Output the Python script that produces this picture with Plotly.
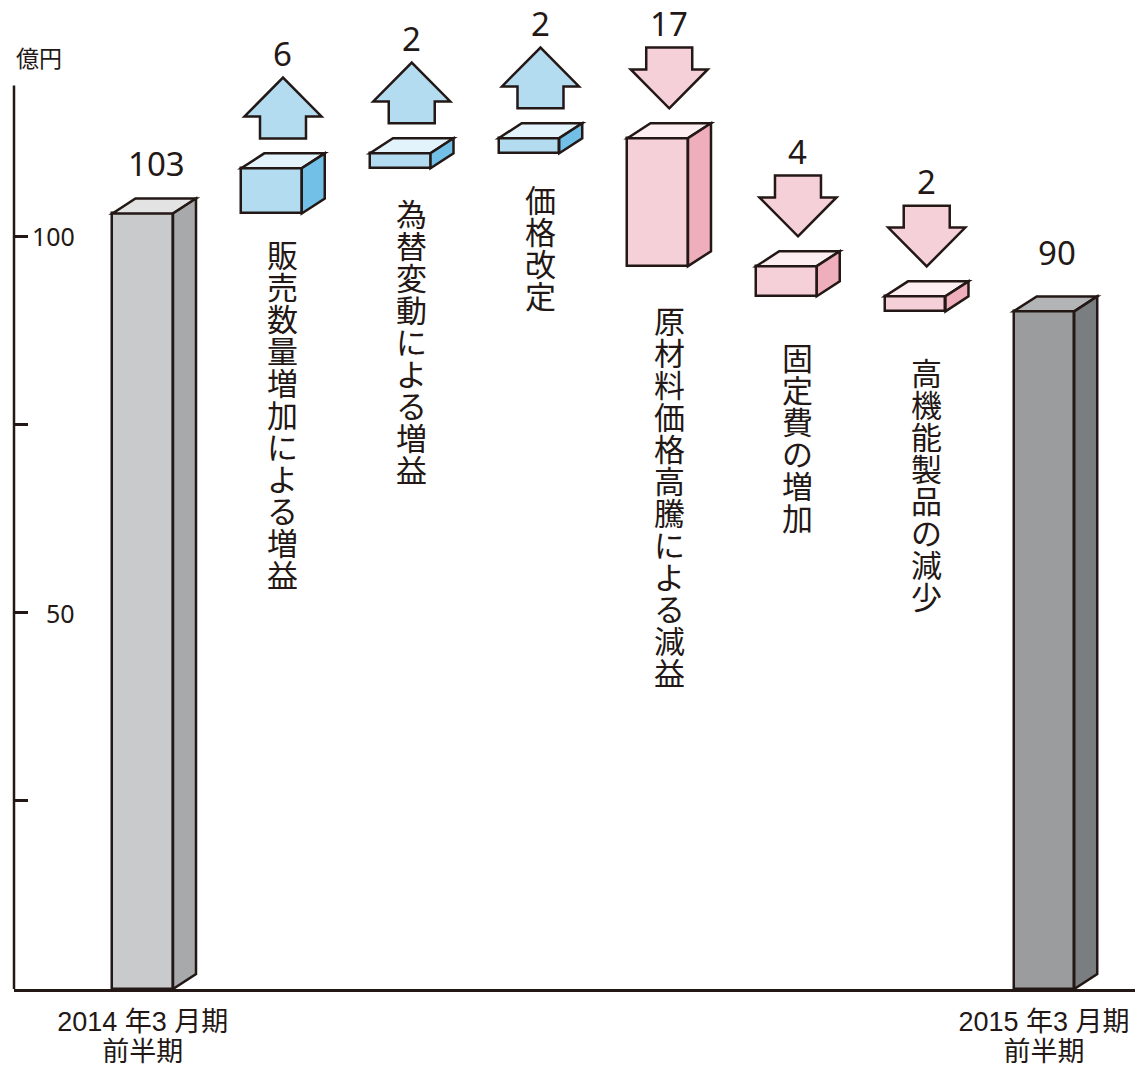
import plotly.graph_objects as go

# ---------------- data ----------------
start_value = 103
end_value = 90
deltas = [6, 2, 2, -17, -4, -2]
step_labels = ["販売数量増加による増益", "為替変動による増益", "価格改定",
               "原材料価格高騰による減益", "固定費の増加", "高機能製品の減少"]
period_lines = [["2014 年3 月期", "前半期"], ["2015 年3 月期", "前半期"]]
y_tick_vals = [25, 50, 75, 100]
y_tick_text = ["", "50", "", "100"]
unit_label = "億円"

# ---------------- style ----------------
FONT = "Noto Sans CJK JP, Noto Sans, sans-serif"
TIGHT_FONT = "Liberation Sans, Noto Sans CJK JP, sans-serif"
NUM_FONT = "Noto Sans, Noto Sans CJK JP, sans-serif"
INK = "#231815"
LW = 2.5
GRAY1 = dict(front="#c9cacb", top="#e3e3e4", side="#a8a9ab")
GRAY2 = dict(front="#9a9c9d", top="#b3b4b5", side="#7b7e80")
BLUE = dict(front="#b3dcf1", top="#e2f3fb", side="#72c0e7")
PINK = dict(front="#f5d0d8", top="#fdeef2", side="#eeaebb")

W, H = 1135, 1067
M = dict(l=14, r=0, t=0, b=74)
X_RANGE = [-1.0, 7.707]
Y_RANGE = [0, 131.35]
px_x = (W - M["l"] - M["r"]) / (X_RANGE[1] - X_RANGE[0])
px_y = (H - M["t"] - M["b"]) / (Y_RANGE[1] - Y_RANGE[0])

BAR_W = 0.47
DX = 23 / px_x          # depth offset (x units)
DY = 15 / px_y          # depth offset (y units)
ARROW_GAP = 15 / px_y
SHAFT_H = 22 / px_y
HEAD_H = 39 / px_y
HEAD_W = 77 / px_x
SHAFT_W = 46 / px_x
LINE_SPACING = 1.3      # plotly's line spacing (em)
CHAR_PITCH = 32         # px between stacked characters
CHAR_SIZE = 31
PERIOD_PITCH = 30
PERIOD_SIZE = 27
label_gaps_px = [29, 33, 34, 42, 49, 49]
total_label_gaps_px = [19, 27]


def stacked(chars, size):
    return "<br>".join(f"<span style='font-size:{size}px'>{c}</span>" for c in chars)


# ---------------- waterfall geometry ----------------
n = len(deltas) + 2
xs = list(range(n))
bases, heights, styles = [0], [start_value], [GRAY1]
running = start_value
for d in deltas:
    new = running + d
    bases.append(min(running, new))
    heights.append(abs(d))
    styles.append(BLUE if d > 0 else PINK)
    running = new
bases.append(0)
heights.append(end_value)
styles.append(GRAY2)

fig = go.Figure()
fig.add_trace(go.Bar(
    x=xs, y=heights, base=bases, width=BAR_W,
    marker=dict(color=[s["front"] for s in styles], line=dict(color=INK, width=LW)),
    hoverinfo="skip", showlegend=False,
))

shapes = []
annotations = []


def path(points):
    return "M " + " L ".join(f"{x},{y}" for x, y in points) + " Z"


for x, b, h, s in zip(xs, bases, heights, styles):
    l, r = x - BAR_W / 2, x + BAR_W / 2
    top = b + h
    shapes.append(dict(type="path", xref="x", yref="y", layer="above",
                       path=path([(l, top), (r, top), (r + DX, top + DY), (l + DX, top + DY)]),
                       fillcolor=s["top"], line=dict(color=INK, width=LW)))
    shapes.append(dict(type="path", xref="x", yref="y", layer="above",
                       path=path([(r, b), (r, top), (r + DX, top + DY), (r + DX, b + DY)]),
                       fillcolor=s["side"], line=dict(color=INK, width=LW)))

# arrows, numbers and vertical labels for steps
for i, d in enumerate(deltas):
    x = i + 1
    cx = x + DX / 2
    top = bases[x] + heights[x]
    yb = top + DY + ARROW_GAP
    s = styles[x]
    if d > 0:
        pts = [(cx - SHAFT_W / 2, yb), (cx + SHAFT_W / 2, yb),
               (cx + SHAFT_W / 2, yb + SHAFT_H), (cx + HEAD_W / 2, yb + SHAFT_H),
               (cx, yb + SHAFT_H + HEAD_H), (cx - HEAD_W / 2, yb + SHAFT_H),
               (cx - SHAFT_W / 2, yb + SHAFT_H)]
    else:
        pts = [(cx, yb), (cx + HEAD_W / 2, yb + HEAD_H),
               (cx + SHAFT_W / 2, yb + HEAD_H), (cx + SHAFT_W / 2, yb + HEAD_H + SHAFT_H),
               (cx - SHAFT_W / 2, yb + HEAD_H + SHAFT_H), (cx - SHAFT_W / 2, yb + HEAD_H),
               (cx - HEAD_W / 2, yb + HEAD_H)]
    shapes.append(dict(type="path", xref="x", yref="y", layer="above", path=path(pts),
                       fillcolor=s["front"], line=dict(color=INK, width=LW)))
    annotations.append(dict(x=cx, y=yb + SHAFT_H + HEAD_H, xref="x", yref="y",
                            text=str(abs(d)), showarrow=False, yanchor="bottom", yshift=0,
                            font=dict(family=NUM_FONT, size=33, color=INK)))
    annotations.append(dict(x=cx, y=bases[x], xref="x", yref="y",
                            text=stacked(step_labels[i], CHAR_SIZE),
                            showarrow=False, yanchor="top", align="center",
                            yshift=-(label_gaps_px[i] - 5),
                            font=dict(family=TIGHT_FONT, size=CHAR_PITCH / LINE_SPACING,
                                      color=INK)))

# totals
for j, x in enumerate([0, n - 1]):
    annotations.append(dict(x=x + DX / 2 + 2 / px_x, y=heights[x] + DY, xref="x", yref="y",
                            text=str(heights[x]), showarrow=False, yanchor="bottom",
                            yshift=total_label_gaps_px[j] - 8,
                            font=dict(family=NUM_FONT, size=33, color=INK)))

# y tick labels (inside)
for v, t in zip(y_tick_vals, y_tick_text):
    if t:
        annotations.append(dict(x=X_RANGE[0] + (77 - M["l"]) / px_x, y=v, xref="x", yref="y",
                                text=t, showarrow=False, xanchor="right", yanchor="middle",
                                font=dict(family=NUM_FONT, size=25, color=INK)))

annotations.append(dict(x=0, y=120, xref="paper", yref="y", text=unit_label,
                        showarrow=False, xanchor="left", yanchor="bottom", yshift=9,
                        font=dict(family=FONT, size=23, color=INK)))

# y axis line
shapes.append(dict(type="line", xref="paper", yref="y", x0=0, x1=0, y0=0, y1=120,
                   line=dict(color=INK, width=LW)))

period_text = ["<br>".join(f"<span style='font-size:{PERIOD_SIZE}px'>{ln}</span>"
                           for ln in lines) for lines in period_lines]

fig.update_layout(
    width=W, height=H, margin=M,
    paper_bgcolor="white", plot_bgcolor="white",
    shapes=shapes, annotations=annotations,
    font=dict(family=FONT, color=INK),
    xaxis=dict(range=X_RANGE, showgrid=False, zeroline=False, showline=True,
               linecolor=INK, linewidth=LW, ticks="", tickvals=[0, n - 1],
               ticktext=period_text, ticklabelstandoff=12,
               tickfont=dict(family=TIGHT_FONT, size=PERIOD_PITCH / LINE_SPACING,
                             color=INK)),
    yaxis=dict(range=Y_RANGE, showgrid=False, zeroline=False, showline=False,
               ticks="inside", ticklen=14, tickwidth=LW, tickcolor=INK,
               tickvals=y_tick_vals, showticklabels=False),
    bargap=0,
)

fig.write_html("out.html")
